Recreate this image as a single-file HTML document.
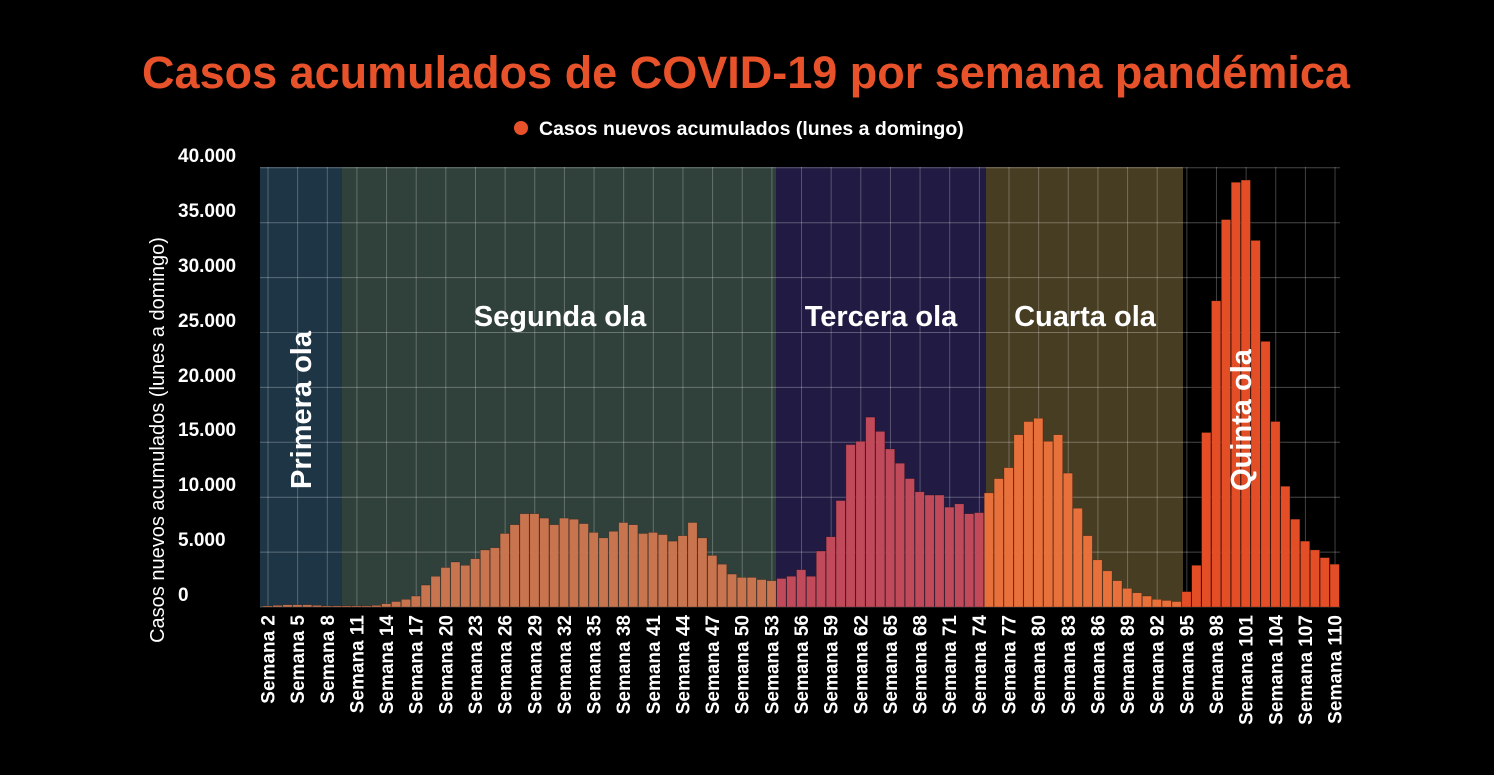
<!DOCTYPE html>
<html><head><meta charset="utf-8"><style>
html,body{margin:0;padding:0;background:#000;width:1494px;height:775px;overflow:hidden}
svg text{font-family:"Liberation Sans",sans-serif;font-weight:bold;fill:#fff}
</style></head><body>
<svg id="s" width="1494" height="775" xmlns="http://www.w3.org/2000/svg">
<rect width="1494" height="775" fill="#000"/>
<rect x="260" y="167" width="82" height="440" fill="#1d3545"/>
<rect x="342" y="167" width="434" height="440" fill="#30403a"/>
<rect x="776" y="167" width="210" height="440" fill="#211a42"/>
<rect x="986" y="167" width="197" height="440" fill="#473d22"/>
<g id="grid"></g>
<g id="bars"></g>
<text x="746" y="88" text-anchor="middle" style="font-size:45px;fill:#e8522a">Casos acumulados de COVID-19 por semana pandémica</text>
<circle cx="521" cy="128" r="7" fill="#e8522a"/>
<text x="539" y="135" style="font-size:19.5px">Casos nuevos acumulados (lunes a domingo)</text>
<g style="font-size:19px">
<text x="178" y="162">40.000</text><text x="178" y="217">35.000</text><text x="178" y="272">30.000</text>
<text x="178" y="327">25.000</text><text x="178" y="382">20.000</text><text x="178" y="436">15.000</text>
<text x="178" y="491">10.000</text><text x="178" y="546">5.000</text><text x="178" y="601">0</text>
</g>
<text transform="translate(164,440) rotate(-90)" text-anchor="middle" style="font-size:20px;font-weight:normal">Casos nuevos acumulados (lunes a domingo)</text>
<g style="font-size:29px">
<text transform="translate(311,410) rotate(-90)" text-anchor="middle">Primera ola</text>
<text x="560" y="326" text-anchor="middle">Segunda ola</text>
<text x="881" y="326" text-anchor="middle">Tercera ola</text>
<text x="1085" y="326" text-anchor="middle">Cuarta ola</text>
<text transform="translate(1251,420) rotate(-90)" text-anchor="middle">Quinta ola</text>
</g>
<g style="font-size:19px" text-anchor="end">
<text transform="translate(274.5,615) rotate(-90)">Semana 2</text>
<text transform="translate(304.1,615) rotate(-90)">Semana 5</text>
<text transform="translate(333.8,615) rotate(-90)">Semana 8</text>
<text transform="translate(363.4,615) rotate(-90)">Semana 11</text>
<text transform="translate(393.1,615) rotate(-90)">Semana 14</text>
<text transform="translate(422.7,615) rotate(-90)">Semana 17</text>
<text transform="translate(452.3,615) rotate(-90)">Semana 20</text>
<text transform="translate(482,615) rotate(-90)">Semana 23</text>
<text transform="translate(511.6,615) rotate(-90)">Semana 26</text>
<text transform="translate(541.3,615) rotate(-90)">Semana 29</text>
<text transform="translate(570.9,615) rotate(-90)">Semana 32</text>
<text transform="translate(600.5,615) rotate(-90)">Semana 35</text>
<text transform="translate(630.2,615) rotate(-90)">Semana 38</text>
<text transform="translate(659.8,615) rotate(-90)">Semana 41</text>
<text transform="translate(689.5,615) rotate(-90)">Semana 44</text>
<text transform="translate(719.1,615) rotate(-90)">Semana 47</text>
<text transform="translate(748.7,615) rotate(-90)">Semana 50</text>
<text transform="translate(778.4,615) rotate(-90)">Semana 53</text>
<text transform="translate(808,615) rotate(-90)">Semana 56</text>
<text transform="translate(837.7,615) rotate(-90)">Semana 59</text>
<text transform="translate(867.3,615) rotate(-90)">Semana 62</text>
<text transform="translate(896.9,615) rotate(-90)">Semana 65</text>
<text transform="translate(926.6,615) rotate(-90)">Semana 68</text>
<text transform="translate(956.2,615) rotate(-90)">Semana 71</text>
<text transform="translate(985.9,615) rotate(-90)">Semana 74</text>
<text transform="translate(1015.5,615) rotate(-90)">Semana 77</text>
<text transform="translate(1045.1,615) rotate(-90)">Semana 80</text>
<text transform="translate(1074.8,615) rotate(-90)">Semana 83</text>
<text transform="translate(1104.4,615) rotate(-90)">Semana 86</text>
<text transform="translate(1134.1,615) rotate(-90)">Semana 89</text>
<text transform="translate(1163.7,615) rotate(-90)">Semana 92</text>
<text transform="translate(1193.3,615) rotate(-90)">Semana 95</text>
<text transform="translate(1223,615) rotate(-90)">Semana 98</text>
<text transform="translate(1252.6,615) rotate(-90)">Semana 101</text>
<text transform="translate(1282.3,615) rotate(-90)">Semana 104</text>
<text transform="translate(1311.9,615) rotate(-90)">Semana 107</text>
<text transform="translate(1341.5,615) rotate(-90)">Semana 110</text>
</g>
</svg>
<script>
var NS="http://www.w3.org/2000/svg";
function el(p,t,a){var e=document.createElementNS(NS,t);for(var k in a)e.setAttribute(k,a[k]);p.appendChild(e);return e;}
var g=document.getElementById("grid"),b=document.getElementById("bars");
for(var i=0;i<=8;i++){var y=607-i*54.9;el(g,"line",{x1:260,x2:1340,y1:y,y2:y,stroke:"rgba(255,255,255,0.28)","stroke-width":1});}
for(var w=2;w<=110;w+=3){var x=268+(w-2)*9.88;el(g,"line",{x1:x,x2:x,y1:167,y2:607,stroke:"rgba(255,255,255,0.25)","stroke-width":1});}
var v=[0.1,0.15,0.2,0.2,0.2,0.15,0.1,0.1,
0.1,0.1,0.1,0.15,0.3,0.5,0.7,1.0,2.0,2.8,3.6,4.1,3.8,4.4,5.2,5.4,6.7,7.5,8.5,8.5,8.1,7.5,8.1,8.0,7.6,6.8,6.3,6.9,7.7,7.5,6.7,6.8,6.6,6.0,6.5,7.7,6.3,4.7,3.9,3.0,2.7,2.7,2.5,2.4,
2.6,2.8,3.4,2.8,5.1,6.4,9.7,14.8,15.1,17.3,16.0,14.4,13.1,11.7,10.5,10.2,10.2,9.1,9.4,8.5,8.6,
10.4,11.7,12.7,15.7,16.9,17.2,15.1,15.7,12.2,9.0,6.5,4.3,3.3,2.4,1.7,1.3,1.0,0.7,0.6,0.5,
1.4,3.8,15.9,27.9,35.3,38.7,38.9,33.4,24.2,16.9,11.0,8.0,6.0,5.2,4.5,3.9];
for(var k=0;k<v.length;k++){var w=k+2,c;
if(w<=53)c="#c8744f";else if(w<=74)c="#c04a5a";else if(w<=94)c="#e8703a";else c="#e34e26";
var h=v[k]*10.975,x=263+(w-2)*9.88;
el(b,"rect",{x:x,y:607-h,width:9.3,height:h,fill:c,stroke:"rgba(0,0,0,0.35)","stroke-width":0.6});}
</script>
</body></html>
